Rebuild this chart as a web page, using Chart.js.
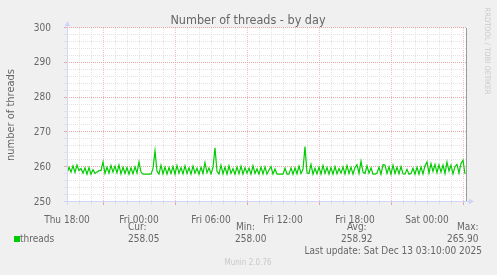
<!DOCTYPE html>
<html>
<head>
<meta charset="utf-8">
<script src="https://cdn.jsdelivr.net/npm/chart.js@4.4.1/dist/chart.umd.min.js"></script>
<style>
  html, body { margin: 0; padding: 0; background: #F0F0F0; }
  #wrap { width: 497px; height: 275px; position: relative; }
</style>
</head>
<body>
<div id="wrap"><canvas id="c" width="497" height="275"></canvas></div>
<script>
// ---- data (hours since Thu 18:00, one value every 10 minutes) ----
const stepHours = 1 / 6;
const threadValues = [
  258.2, 260.0, 258.6, 260.4, 258.5, 260.6,
  259.0, 259.6, 258.3, 259.8, 258.0, 259.9,
  258.0, 259.3, 258.2, 258.6, 259.0, 259.0,
  261.5, 258.2, 260.0, 258.3, 260.5, 258.6,
  260.3, 258.4, 260.6, 258.1, 260.0, 258.2,
  259.9, 258.0, 259.8, 258.1, 260.1, 258.3,
  261.5, 258.6, 258.0, 258.0, 258.0, 258.0,
  258.0, 259.6, 264.7, 258.8, 258.0, 260.6,
  258.1, 260.0, 258.0, 259.9, 258.2, 260.2,
  258.0, 260.5, 258.3, 259.9, 258.1, 260.4,
  258.2, 259.8, 258.0, 260.3, 258.3, 259.7,
  258.0, 260.0, 258.2, 261.3, 258.4, 259.8,
  258.1, 259.9, 265.6, 258.8, 258.0, 260.6,
  258.1, 260.0, 258.0, 260.4, 258.2, 259.6,
  258.0, 260.1, 258.1, 260.3, 258.0, 259.8,
  258.3, 259.7, 258.0, 260.4, 258.2, 259.5,
  258.0, 260.0, 258.1, 260.1, 258.0, 259.2,
  260.2, 258.0, 259.5, 258.0, 258.0, 258.0,
  258.0, 259.7, 258.0, 258.0, 259.8, 258.0,
  259.8, 258.1, 260.3, 258.2, 259.4, 265.9,
  258.4, 258.2, 260.8, 258.0, 259.7, 258.1,
  260.0, 258.0, 260.5, 258.2, 259.9, 258.0,
  259.9, 258.0, 260.2, 258.1, 259.6, 258.3,
  260.1, 258.0, 260.5, 258.2, 260.0, 258.0,
  259.9, 260.7, 258.2, 261.7, 258.6, 258.2,
  260.4, 258.3, 259.8, 258.0, 258.0, 258.3,
  260.0, 258.0, 260.7, 260.6, 258.2, 260.1,
  258.0, 260.6, 258.2, 260.0, 258.1, 260.2,
  258.1, 258.0, 259.4, 258.0, 258.2, 259.7,
  258.0, 260.0, 258.0, 260.1, 258.1, 260.4,
  261.5, 258.3, 261.0, 258.8, 260.8, 258.4,
  260.7, 258.6, 260.6, 258.2, 261.5, 258.9,
  260.6, 258.1, 260.2, 260.8, 258.3, 261.1,
  262.0, 258.05
];
const xTickHours = [0, 6, 12, 18, 24, 30];
const xTickLabels = ['Thu 18:00', 'Fri 00:00', 'Fri 06:00', 'Fri 12:00', 'Fri 18:00', 'Sat 00:00'];
const xMaxHours = 400 / 12;
const yMin = 250, yMax = 300;
const seriesName = 'threads';
const statLabels = ['Cur:', 'Min:', 'Avg:', 'Max:'];
const statValues = ['258.05', '258.00', '258.92', '265.90'];
const titleText = 'Number of threads - by day';
const yAxisTitle = 'number of threads';
const lastUpdate = 'Last update: Sat Dec 13 03:10:00 2025';
const footer = 'Munin 2.0.76';
const sideText = 'RRDTOOL / TOBI OETIKER';

const FONT = '"DejaVu Sans Condensed", "DejaVu Sans", sans-serif';
const TXT = '#666666';
const AXIS = '#CFD6F8';
const MINOR = '#e2e2e2';
const MAJOR = '#e8a8a8';
const MAJOR_V = '#efc0c0';

const munin = {
  id: 'munin',
  beforeDraw(chart) {
    const { ctx, chartArea: a } = chart;
    ctx.save();
    ctx.fillStyle = '#F0F0F0';
    ctx.fillRect(0, 0, chart.width, chart.height);
    ctx.fillStyle = '#FFFFFF';
    ctx.fillRect(a.left, a.top, a.right - a.left, a.bottom - a.top);
    ctx.restore();
  },
  beforeDatasetsDraw(chart) {
    const { ctx, chartArea: a, scales: { x, y } } = chart;
    ctx.save();
    ctx.lineWidth = 1;
    ctx.setLineDash([1, 1]);
    for (let h = 1; h <= 33; h++) {
      const px = Math.round(x.getPixelForValue(h)) + 0.5;
      ctx.strokeStyle = (h % 6 === 3) ? MAJOR_V : MINOR;
      ctx.beginPath(); ctx.moveTo(px, a.top); ctx.lineTo(px, a.bottom); ctx.stroke();
    }
    for (let v = yMin + 2; v <= yMax; v += 2) {
      const py = Math.round(y.getPixelForValue(v)) - 0.5;
      ctx.strokeStyle = (v % 10 === 0) ? MAJOR : MINOR;
      ctx.beginPath(); ctx.moveTo(a.left, py); ctx.lineTo(a.right, py); ctx.stroke();
    }
    ctx.setLineDash([]);
    for (let h = 1; h <= 33; h++) {
      const px = Math.round(x.getPixelForValue(h)) + 0.5;
      ctx.strokeStyle = (h % 6 === 3) ? MAJOR : MINOR;
      ctx.beginPath(); ctx.moveTo(px, a.bottom); ctx.lineTo(px, a.bottom + 3); ctx.stroke();
    }
    for (let v = yMin + 2; v <= yMax; v += 2) {
      const py = Math.round(y.getPixelForValue(v)) - 0.5;
      ctx.strokeStyle = (v % 10 === 0) ? MAJOR : MINOR;
      ctx.beginPath(); ctx.moveTo(a.left - 3, py); ctx.lineTo(a.left, py); ctx.stroke();
    }
    ctx.restore();
  },
  afterDatasetsDraw(chart) {
    const { ctx, chartArea: a } = chart;
    ctx.save();
    ctx.lineWidth = 1;
    ctx.strokeStyle = '#9a9a9a';
    ctx.beginPath(); ctx.moveTo(Math.round(a.right) - 0.5, a.top); ctx.lineTo(Math.round(a.right) - 0.5, a.bottom); ctx.stroke();
    ctx.strokeStyle = AXIS; ctx.fillStyle = AXIS;
    const lx = Math.round(a.left) + 0.5, by = Math.round(a.bottom) - 0.5;
    ctx.beginPath(); ctx.moveTo(lx, a.bottom + 3); ctx.lineTo(lx, a.top - 2); ctx.stroke();
    ctx.beginPath(); ctx.moveTo(a.left - 3, by); ctx.lineTo(a.right + 2, by); ctx.stroke();
    ctx.beginPath(); ctx.moveTo(lx - 3, a.top - 2); ctx.lineTo(lx + 3, a.top - 2); ctx.lineTo(lx, a.top - 7); ctx.closePath(); ctx.fill();
    ctx.beginPath(); ctx.moveTo(a.right + 2, by - 3); ctx.lineTo(a.right + 2, by + 3); ctx.lineTo(a.right + 7, by); ctx.closePath(); ctx.fill();
    ctx.restore();
  },
  afterDraw(chart) {
    const { ctx, chartArea: a } = chart;
    ctx.save();
    ctx.fillStyle = TXT;
    ctx.textBaseline = 'middle';
    ctx.font = '12.5px ' + FONT;
    ctx.textAlign = 'center';
    ctx.fillText(titleText, 248, 21);
    ctx.save();
    ctx.translate(11, (a.top + a.bottom) / 2);
    ctx.rotate(-Math.PI / 2);
    ctx.font = '11px ' + FONT;
    ctx.fillText(yAxisTitle, 0, 0);
    ctx.restore();
    ctx.save();
    ctx.translate(487, 51);
    ctx.rotate(Math.PI / 2);
    ctx.fillStyle = '#c8c8c8';
    ctx.font = '7.5px ' + FONT;
    ctx.fillText(sideText, 0, 0);
    ctx.restore();
    ctx.font = '10px ' + FONT;
    ctx.fillStyle = '#00CC00';
    ctx.fillRect(14, 236, 6, 6);
    ctx.fillStyle = TXT;
    ctx.textAlign = 'left';
    ctx.fillText(seriesName, 20, 239.5);
    const labelX = [128, 236, 347, 457];
    const valueX = [128, 235, 341, 447];
    for (let i = 0; i < statLabels.length; i++) {
      ctx.fillText(statLabels[i], labelX[i], 227.5);
      ctx.fillText(statValues[i], valueX[i], 239.5);
    }
    ctx.textAlign = 'right';
    ctx.fillText(lastUpdate, 482, 251.5);
    ctx.textAlign = 'center';
    ctx.fillStyle = '#c8c8c8';
    ctx.font = '8px ' + FONT;
    ctx.fillText(footer, 248, 262.5);
    ctx.restore();
  }
};

new Chart(document.getElementById('c'), {
  type: 'line',
  data: {
    datasets: [{
      label: seriesName,
      data: threadValues.map((v, i) => ({ x: i * stepHours, y: v })),
      borderColor: '#00CC00',
      borderWidth: 1.2,
      pointRadius: 0,
      tension: 0,
      fill: false
    }]
  },
  options: {
    responsive: false,
    animation: false,
    devicePixelRatio: 1,
    layout: { padding: { left: 0, right: 30, top: 28, bottom: 0 } },
    plugins: { legend: { display: false }, title: { display: false }, tooltip: { enabled: false } },
    scales: {
      x: {
        type: 'linear',
        min: 0,
        max: xMaxHours,
        grid: { display: false },
        border: { display: false },
        afterBuildTicks: (s) => { s.ticks = xTickHours.map(v => ({ value: v })); },
        afterFit: (s) => { s.height = 73; },
        ticks: {
          autoSkip: false,
          maxRotation: 0,
          padding: 4,
          color: TXT,
          font: { family: FONT, size: 10 },
          callback: (v) => { const i = xTickHours.indexOf(v); return i >= 0 ? xTickLabels[i] : ''; }
        }
      },
      y: {
        min: yMin,
        max: yMax,
        grid: { display: false },
        border: { display: false },
        afterFit: (s) => { s.width = 67; },
        ticks: {
          stepSize: 10,
          padding: 8,
          color: TXT,
          font: { family: FONT, size: 10 }
        }
      }
    }
  },
  plugins: [munin]
});
</script>
</body>
</html>
